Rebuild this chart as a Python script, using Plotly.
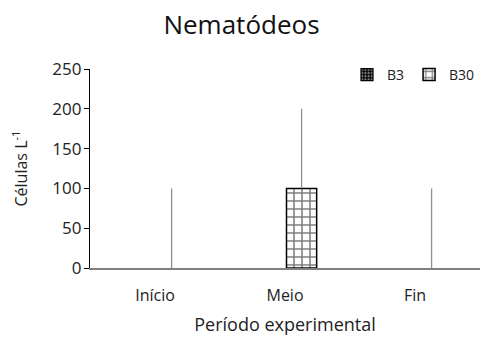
import plotly.graph_objects as go

# Sampling periods and cell counts per treatment
periods = ["Início", "Meio", "Fin"]
b3_values = [0, 0, 0]
b30_values = [0, 100, 0]
b30_error = [100, 100, 100]

font_family = "'Open Sans', sans-serif"
text_color = "#222222"

b3_marker = dict(
    color="black",
    line=dict(color="black", width=1.2),
    pattern=dict(shape=".", fgcolor="white", bgcolor="black", size=4, solidity=0.45),
)
b30_marker = dict(
    color="white",
    line=dict(color="black", width=1.5),
    pattern=dict(shape="+", fgcolor="black", bgcolor="white", size=8, solidity=0.35),
)


def with_outline(marker, values):
    # empty bars get no outline so they vanish on the baseline
    m = dict(marker)
    w = marker["line"]["width"]
    m["line"] = dict(color=marker["line"]["color"], width=[w if v > 0 else 0 for v in values])
    return m


fig = go.Figure()

fig.add_trace(go.Bar(
    name="B3", x=periods, y=b3_values, legendgroup="B3", offsetgroup="B3",
    showlegend=False, marker=with_outline(b3_marker, b3_values),
))
fig.add_trace(go.Bar(
    name="B30", x=periods, y=b30_values, legendgroup="B30", offsetgroup="B30",
    showlegend=False, marker=with_outline(b30_marker, b30_values),
    error_y=dict(type="data", array=b30_error, arrayminus=[0, 0, 0],
                 color="#8f8f8f", thickness=1.3, width=0),
))

# legend entries with full outlines, sharing the slots of the series above
fig.add_trace(go.Bar(name="B3", x=[periods[0]], y=[None], legendgroup="B3",
                     offsetgroup="B3", marker=b3_marker, showlegend=True))
fig.add_trace(go.Bar(name="B30", x=[periods[0]], y=[None], legendgroup="B30",
                     offsetgroup="B30", marker=b30_marker, showlegend=True))

fig.update_layout(
    width=483,
    height=338,
    margin=dict(l=90, r=3, t=69, b=70),
    paper_bgcolor="white",
    plot_bgcolor="white",
    barmode="group",
    bargap=0.49,
    bargroupgap=0.09,
    font=dict(family=font_family, size=16, color=text_color),
    title=dict(
        text="Nematódeos",
        x=0.5, xanchor="center",
        y=0.925, yanchor="middle",
        font=dict(size=26, color="#111111"),
    ),
    legend=dict(
        orientation="h",
        x=1.0, xanchor="right",
        y=0.97, yanchor="middle",
        bgcolor="rgba(0,0,0,0)",
        font=dict(size=14),
        itemwidth=30,
        traceorder="normal",
    ),
    xaxis=dict(
        showline=True,
        linecolor="#808080",
        linewidth=1.5,
        ticks="outside",
        ticklen=12,
        tickcolor="rgba(0,0,0,0)",
        showgrid=False,
        tickfont=dict(size=16),
        title=dict(text="Período experimental", font=dict(size=18), standoff=13),
    ),
    yaxis=dict(
        range=[0, 250],
        dtick=50,
        showline=True,
        linecolor="black",
        linewidth=1.2,
        ticks="outside",
        ticklen=5,
        tickcolor="black",
        ticklabelstandoff=-1,
        showgrid=False,
        zeroline=False,
        tickfont=dict(size=17),
        title=dict(text="Células L<sup>-1</sup>", font=dict(size=16), standoff=20),
    ),
)

fig.write_html("out.html")
